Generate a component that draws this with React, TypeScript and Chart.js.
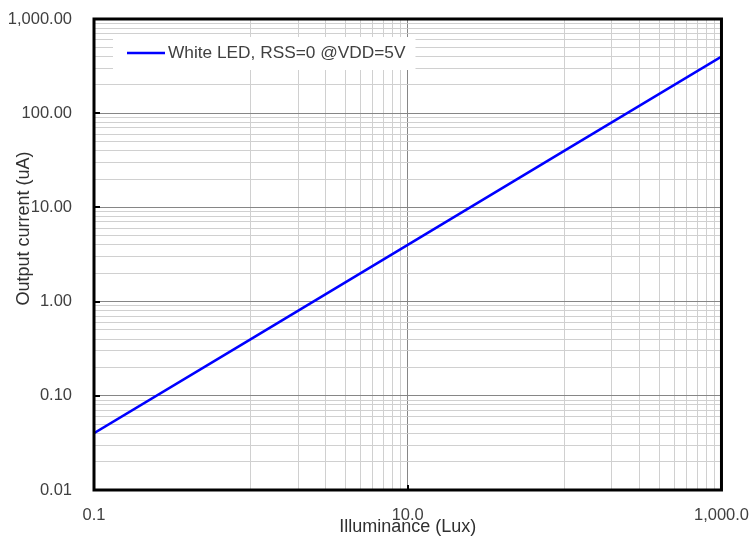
import React, { useEffect, useRef } from "react";
import { Chart, registerables } from "chart.js";

Chart.register(...registerables);

const seriesLabel = "White LED, RSS=0 @VDD=5V";
const illuminanceLux = [0.1, 1, 10, 100, 1000];
const outputCurrentUA = [0.04, 0.4, 4, 40, 400];

const xMajorTicks = [0.1, 10, 1000];
const xTickLabels = ["0.1", "10.0", "1,000.0"];
const yMajorTicks = [0.01, 0.1, 1, 10, 100, 1000];
const yTickLabels = ["0.01", "0.10", "1.00", "10.00", "100.00", "1,000.00"];

const xTitle = "Illuminance (Lux)";
const yTitle = "Output current (uA)";

const FONT = "'Liberation Sans', Arial, sans-serif";
const TEXT = "#404040";
const TITLE = "#303030";
const MAJOR_GRID = "#868686";
const MINOR_GRID = "#d0d0d0";
const CLEAR = "rgba(0,0,0,0)";

// minor grid positions: x uses multiples 10..90 of each major (base-100 spacing), y uses 2..9
const xGridValues: number[] = [];
for (let i = 0; i < xMajorTicks.length; i++) {
  const m = xMajorTicks[i];
  xGridValues.push(m);
  if (i < xMajorTicks.length - 1) {
    for (let k = 10; k <= 90; k += 10) xGridValues.push(m * k);
  }
}
const yGridValues: number[] = [];
for (let i = 0; i < yMajorTicks.length; i++) {
  const m = yMajorTicks[i];
  yGridValues.push(m);
  if (i < yMajorTicks.length - 1) {
    for (let k = 2; k <= 9; k++) yGridValues.push(m * k);
  }
}

const findMajor = (list: number[], v: number) =>
  list.findIndex((m) => Math.abs(m - v) < m * 1e-6);

const framePlugin = {
  id: "frameAndExtras",
  afterDatasetsDraw(chart: any) {
    const { ctx, chartArea: a } = chart;
    const ds = chart.data.datasets[0];
    // legend box inside plot area
    ctx.save();
    ctx.font = `17.3px ${FONT}`;
    const tw = ctx.measureText(ds.label).width;
    const bx = a.left + 19;
    const by = a.top + 18;
    const textX = bx + 55;
    const bw = textX + tw + 10 - bx;
    const bh = 33;
    ctx.fillStyle = "#ffffff";
    ctx.fillRect(bx, by, bw, bh);
    ctx.strokeStyle = ds.borderColor;
    ctx.lineWidth = 2.5;
    ctx.beginPath();
    ctx.moveTo(bx + 14, by + 16);
    ctx.lineTo(bx + 52, by + 16);
    ctx.stroke();
    ctx.fillStyle = TEXT;
    ctx.textAlign = "left";
    ctx.textBaseline = "middle";
    ctx.fillText(ds.label, textX, by + 16.5);
    ctx.restore();
  },
  afterDraw(chart: any) {
    const { ctx, chartArea: a, scales } = chart;
    ctx.save();
    ctx.strokeStyle = "#000000";
    ctx.lineWidth = 3;
    ctx.strokeRect(a.left, a.top, a.right - a.left, a.bottom - a.top);
    ctx.lineWidth = 2;
    yMajorTicks.forEach((v) => {
      const y = Math.round(scales.y.getPixelForValue(v));
      ctx.beginPath();
      ctx.moveTo(a.left, y);
      ctx.lineTo(a.left + 6, y);
      ctx.stroke();
    });
    xMajorTicks.forEach((v) => {
      const x = Math.round(scales.x.getPixelForValue(v));
      ctx.beginPath();
      ctx.moveTo(x, a.bottom);
      ctx.lineTo(x, a.bottom - 5);
      ctx.stroke();
    });
    // y axis title
    ctx.translate(a.left - 70, (a.top + a.bottom) / 2 - 26);
    ctx.rotate(-Math.PI / 2);
    ctx.font = `18px ${FONT}`;
    ctx.fillStyle = TITLE;
    ctx.textAlign = "center";
    ctx.textBaseline = "middle";
    ctx.fillText(yTitle, 0, 0);
    ctx.restore();
  },
};

export default function App() {
  const ref = useRef<HTMLCanvasElement | null>(null);

  useEffect(() => {
    if (!ref.current) return;
    Chart.defaults.font.family = FONT;
    const chart = new Chart(ref.current, {
      type: "line",
      data: {
        datasets: [
          {
            label: seriesLabel,
            data: illuminanceLux.map((x, i) => ({ x, y: outputCurrentUA[i] })),
            borderColor: "#0000ff",
            backgroundColor: "#0000ff",
            borderWidth: 2.5,
            pointRadius: 0,
            tension: 0,
            fill: false,
          },
        ],
      },
      options: {
        animation: false,
        responsive: false,
        layout: { padding: { top: 19, left: 0, right: 0, bottom: 0 } },
        plugins: {
          legend: { display: false },
          tooltip: { enabled: false },
        },
        scales: {
          x: {
            type: "logarithmic",
            min: 0.1,
            max: 1000,
            afterBuildTicks: (scale: any) => {
              scale.ticks = xGridValues.map((v) => ({ value: v }));
            },
            afterFit: (scale: any) => {
              scale.height = 46;
            },
            ticks: {
              autoSkip: false,
              maxRotation: 0,
              minRotation: 0,
              padding: 0,
              color: TEXT,
              font: { size: 16.5 },
              callback: (value: any) => {
                const i = findMajor(xMajorTicks, Number(value));
                return i >= 0 ? xTickLabels[i] : "";
              },
            },
            grid: {
              drawTicks: true,
              tickLength: 16,
              tickColor: CLEAR,
              lineWidth: 1,
              color: (ctx: any) =>
                findMajor(xMajorTicks, ctx.tick?.value) >= 0 ? MAJOR_GRID : MINOR_GRID,
            },
            border: { display: false },
            title: {
              display: true,
              text: xTitle,
              color: TITLE,
              font: { size: 18, lineHeight: 1 },
              padding: 0,
            },
          },
          y: {
            type: "logarithmic",
            min: 0.01,
            max: 1000,
            afterBuildTicks: (scale: any) => {
              scale.ticks = yGridValues.map((v) => ({ value: v }));
            },
            afterFit: (scale: any) => {
              scale.width = 94;
            },
            ticks: {
              autoSkip: false,
              padding: 0,
              color: TEXT,
              font: { size: 16.5 },
              callback: (value: any) => {
                const i = findMajor(yMajorTicks, Number(value));
                return i >= 0 ? yTickLabels[i] : "";
              },
            },
            grid: {
              drawTicks: true,
              tickLength: 22,
              tickColor: CLEAR,
              lineWidth: 1,
              color: (ctx: any) =>
                findMajor(yMajorTicks, ctx.tick?.value) >= 0 ? MAJOR_GRID : MINOR_GRID,
            },
            border: { display: false },
          },
        },
      },
      plugins: [framePlugin],
    } as any);
    return () => chart.destroy();
  }, []);

  return (
    <div style={{ position: "fixed", left: 0, top: 0, width: 749, height: 536, background: "#fff" }}>
      <canvas ref={ref} width={749} height={536} style={{ width: 749, height: 536, display: "block" }} />
    </div>
  );
}
